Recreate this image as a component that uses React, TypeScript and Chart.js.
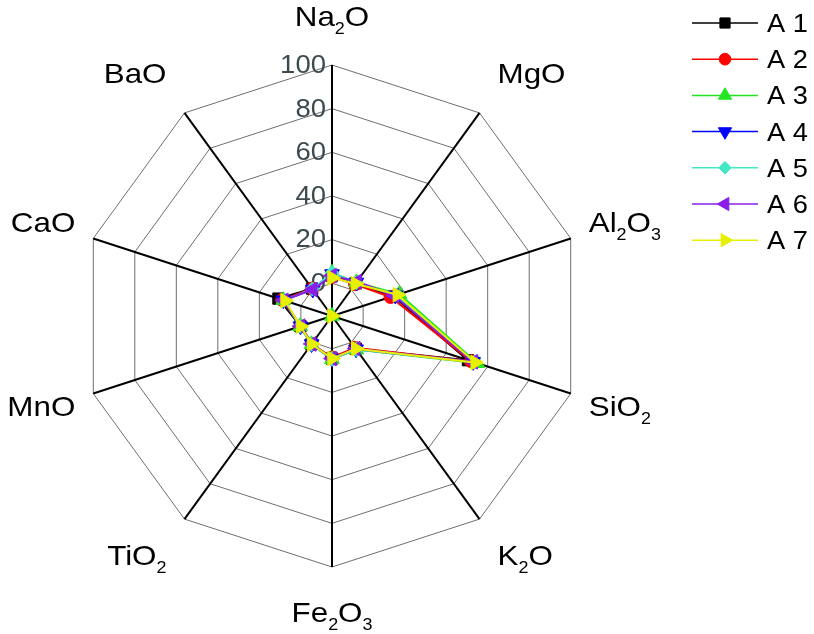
import React, { useEffect, useRef } from 'react';
import { Chart, registerables } from 'chart.js';
import { drawPoint } from 'chart.js/helpers';

Chart.register(...registerables);

// Oxide axes, clockwise from the top
const OXIDES = ['Na2O', 'MgO', 'Al2O3', 'SiO2', 'K2O', 'Fe2O3', 'TiO2', 'MnO', 'CaO', 'BaO'];

// Oxide contents (wt%) per sample; null = not detected
const A1 = [3.5, 3.5, 14.5, 50.5, 3.5, 4.5, 1.0, 0.2, 10.8, 0.5];
const A2 = [3.0, 3.0, 13.2, 52.0, 3.0, 4.0, 0.8, 0.2, 9.0, 0.5];
const A3 = [4.8, 4.0, 17.5, 55.0, 4.0, 4.8, 1.0, 0.3, 8.5, null];
const A4 = [4.2, 4.0, 15.5, 53.0, 3.8, 4.5, 0.9, 0.2, 8.5, 0.0];
const A5 = [4.8, 3.8, 16.0, 53.5, 4.0, 4.8, 1.0, 0.3, 8.0, 0.3];
const A6 = [3.5, 4.5, 15.0, 53.0, 3.5, 4.5, 0.8, 0.1, 8.2, 0.0];
const A7 = [2.5, 3.3, 16.5, 54.0, 3.5, 4.5, 0.9, 0.2, 7.6, null];

const SAMPLE_NAMES = ['A 1', 'A 2', 'A 3', 'A 4', 'A 5', 'A 6', 'A 7'];
const SAMPLE_VALUES = [A1, A2, A3, A4, A5, A6, A7];

const R_MIN = -15;
const R_MAX = 100;
const TICK_VALUES = [0, 20, 40, 60, 80, 100];

const COLORS = ['#000000', '#ff0000', '#22e622', '#0000ff', '#40e8c4', '#8a1ee8', '#e6f000'];
const POINT_STYLES = ['rect', 'circle', 'triangle', 'triangle', 'rectRot', 'triangle', 'triangle'];
const POINT_ROTATIONS = [0, 0, 0, 180, 0, 270, 90];
const POINT_RADII = [8, 6.5, 8.5, 8.5, 7, 8.5, 8.5];

const FONT = '"Liberation Sans", Arial, Helvetica, sans-serif';
const STRETCH = 1.12;
const TITLE_SIZE = 28;
const SUB_SIZE = 16;

function formulaParts(text: string) {
  return text.split(/(\d+)/).filter(Boolean).map((p) => ({ text: p, sub: /^\d+$/.test(p) }));
}

function formulaWidth(ctx: CanvasRenderingContext2D, text: string) {
  return formulaParts(text).reduce((w, p) => {
    ctx.font = `${p.sub ? SUB_SIZE : TITLE_SIZE}px ${FONT}`;
    return w + ctx.measureText(p.text).width;
  }, 0) * STRETCH;
}

// draws a formula with numeric subscripts, centred on (cx, cy) at cap height
function drawFormula(ctx: CanvasRenderingContext2D, text: string, cx: number, cy: number) {
  const parts = formulaParts(text);
  const total = formulaWidth(ctx, text) / STRETCH;
  const base = (TITLE_SIZE * 0.716) / 2;
  ctx.save();
  ctx.translate(cx, cy);
  ctx.scale(STRETCH, 1);
  ctx.textAlign = 'left';
  ctx.textBaseline = 'alphabetic';
  ctx.fillStyle = '#000';
  let x = -total / 2;
  parts.forEach((p) => {
    ctx.font = `${p.sub ? SUB_SIZE : TITLE_SIZE}px ${FONT}`;
    ctx.fillText(p.text, x, p.sub ? base + 8 : base);
    x += ctx.measureText(p.text).width;
  });
  ctx.restore();
}

const radarDecor = {
  id: 'radarDecor',
  beforeDatasetsDraw(chart: any) {
    const ctx: CanvasRenderingContext2D = chart.ctx;
    const s = chart.scales.r;
    ctx.save();
    ctx.font = `25px ${FONT}`;
    ctx.fillStyle = '#3c4a4f';
    ctx.textBaseline = 'middle';
    TICK_VALUES.forEach((v) => {
      const d = s.getDistanceFromCenterForValue(v);
      ctx.save();
      ctx.translate(s.xCenter - 6, s.yCenter - d);
      ctx.scale(1.1, 1);
      ctx.textAlign = 'right';
      ctx.fillText(String(v), 0, 1);
      ctx.restore();
    });
    ctx.restore();
  },
  afterDatasetsDraw(chart: any) {
    // samples without a value: marker at the origin, no connecting line
    const ctx: CanvasRenderingContext2D = chart.ctx;
    const s = chart.scales.r;
    chart.data.datasets.forEach((ds: any, di: number) => {
      SAMPLE_VALUES[di].forEach((v, i) => {
        if (v !== null) return;
        const p = s.getPointPositionForValue(i, s.min);
        ctx.save();
        ctx.fillStyle = ds.pointBackgroundColor;
        ctx.strokeStyle = ds.pointBorderColor;
        ctx.lineWidth = 1;
        drawPoint(ctx, { pointStyle: ds.pointStyle, rotation: ds.pointRotation, radius: ds.pointRadius, borderWidth: 1 }, p.x, p.y);
        ctx.restore();
      });
    });
  },
  afterDraw(chart: any) {
    const ctx: CanvasRenderingContext2D = chart.ctx;
    const s = chart.scales.r;
    OXIDES.forEach((name, i) => {
      const v = s.getPointPosition(i, s.drawingArea);
      const cos = (v.x - s.xCenter) / s.drawingArea;
      const sin = (v.y - s.yCenter) / s.drawingArea;
      const w = formulaWidth(ctx, name);
      const side = Math.abs(cos) < 0.1 ? 0 : Math.sign(cos);
      const x = v.x + side * (18 + w / 2);
      const y = v.y + 47 * sin - 2;
      drawFormula(ctx, name, x, y);
    });

    // legend: line + marker + name
    chart.data.datasets.forEach((ds: any, i: number) => {
      const y = 23 + i * 36.2;
      ctx.save();
      ctx.strokeStyle = ds.borderColor;
      ctx.lineWidth = 1.5;
      ctx.beginPath();
      ctx.moveTo(692, y);
      ctx.lineTo(758, y);
      ctx.stroke();
      ctx.fillStyle = ds.pointBackgroundColor;
      ctx.strokeStyle = ds.pointBorderColor;
      ctx.lineWidth = 1;
      drawPoint(ctx, { pointStyle: ds.pointStyle, rotation: ds.pointRotation, radius: ds.pointRadius * 0.9, borderWidth: 1 }, 725, y);
      ctx.translate(767, y + 9);
      ctx.scale(1.09, 1);
      ctx.font = `25px ${FONT}`;
      ctx.fillStyle = '#000';
      ctx.textAlign = 'left';
      ctx.textBaseline = 'alphabetic';
      ctx.fillText(ds.label, 0, 0);
      ctx.restore();
    });
  },
};

export default function App() {
  const canvasRef = useRef<HTMLCanvasElement | null>(null);

  useEffect(() => {
    if (!canvasRef.current) return;
    const datasets = SAMPLE_VALUES.map((vals, i) => ({
      label: SAMPLE_NAMES[i],
      data: vals,
      borderColor: COLORS[i],
      backgroundColor: COLORS[i],
      pointBackgroundColor: COLORS[i],
      pointBorderColor: COLORS[i],
      pointStyle: POINT_STYLES[i],
      pointRotation: POINT_ROTATIONS[i],
      pointRadius: POINT_RADII[i],
      pointBorderWidth: 1,
      borderWidth: 2,
      fill: false,
      tension: 0,
      spanGaps: false,
      order: SAMPLE_VALUES.length - i,
    }));

    const chart = new Chart(canvasRef.current, {
      type: 'radar',
      data: { labels: OXIDES, datasets },
      plugins: [radarDecor],
      options: {
        animation: false,
        responsive: true,
        maintainAspectRatio: false,
        layout: { padding: { left: 81, top: 65, right: 231, bottom: 67 } },
        plugins: { legend: { display: false }, tooltip: { enabled: false } },
        scales: {
          r: {
            min: R_MIN,
            max: R_MAX,
            afterBuildTicks: (scale: any) => {
              scale.ticks = TICK_VALUES.map((v) => ({ value: v }));
            },
            ticks: { display: false },
            pointLabels: { display: false },
            grid: { color: '#6e6e6e', lineWidth: 1 },
            angleLines: { color: '#000000', lineWidth: 2 },
          },
        },
      },
    });
    return () => chart.destroy();
  }, []);

  return (
    <div style={{ position: 'fixed', left: 0, top: 0, width: 814, height: 634, background: '#fff' }}>
      <canvas ref={canvasRef} />
    </div>
  );
}
